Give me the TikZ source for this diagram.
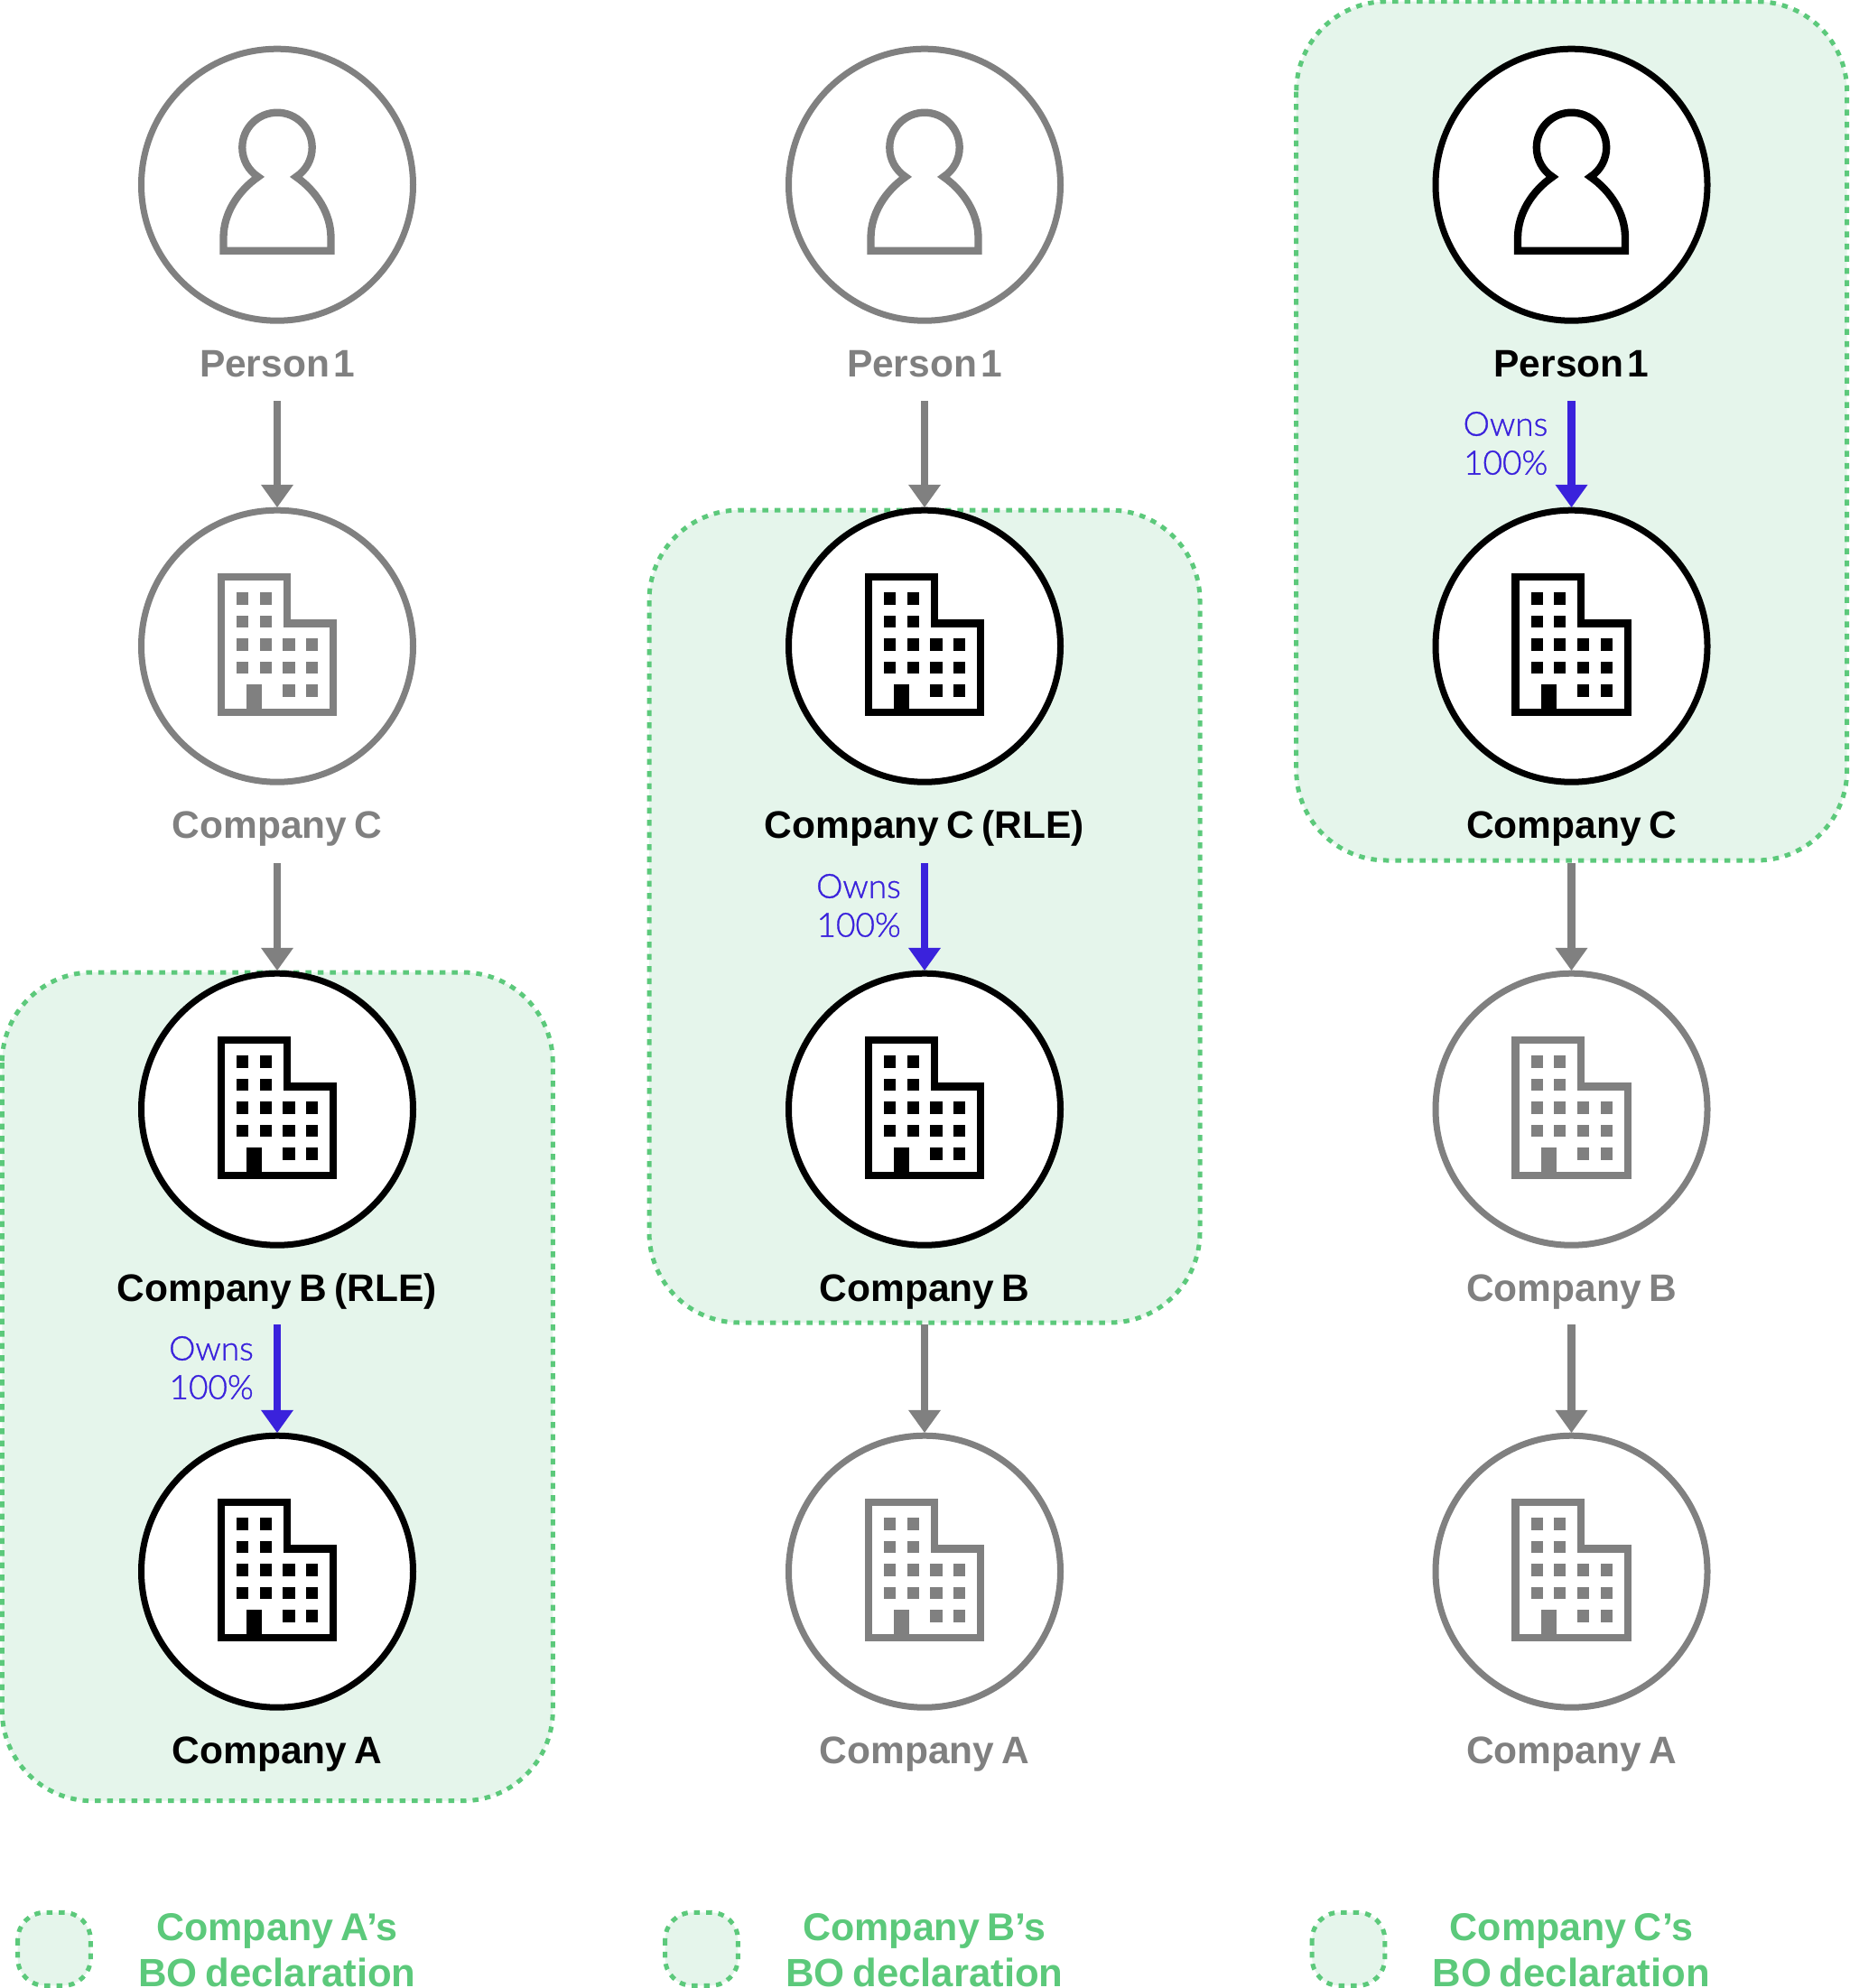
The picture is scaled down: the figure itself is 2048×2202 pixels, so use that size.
\documentclass[tikz,border=0pt]{standalone}
\usepackage{fontspec}
\setmainfont[WordSpace=0.7]{Liberation Sans}
\newfontfamily\lightfont[FakeBold=1]{Lato Light}
\definecolor{gr}{HTML}{808080}
\definecolor{gn}{HTML}{5CC97B}
\definecolor{gf}{HTML}{E5F5EB}
\definecolor{bl}{HTML}{3A22DC}
\usetikzlibrary{arrows.meta}
\newcommand{\personicon}[2]{\draw[#2,line width=8.3pt,miter limit=10,shift={(#1)}]
 (-59.5,73) -- (-59.5,58.7) .. controls (-59.5,32) and (-43.7,7) .. (-21,-8.8)
 .. controls (-32,-15.9) and (-38.7,-28.2) .. (-38.7,-41.3)
 .. controls (-38.7,-62.7) and (-21.4,-80) .. (0,-80)
 .. controls (21.4,-80) and (38.7,-62.7) .. (38.7,-41.3)
 .. controls (38.7,-28.2) and (32,-15.9) .. (21,-8.8)
 .. controls (43.7,7) and (59.5,32) .. (59.5,58.7) -- (59.5,73) -- cycle;}
\newcommand{\buildingicon}[2]{\begin{scope}[shift={(#1)}]
 \draw[#2,line width=8.3pt] (-62,73.2) -- (-62,-76.5) -- (10.8,-76.5) -- (10.8,-25.2) -- (62.3,-25.2) -- (62.3,73.2) -- cycle;
 \fill[#2] (-34,42.7) rectangle (-17,77.3);
 \foreach \wx/\wy in {-38.3/-52.7,-12.7/-52.7,-38.3/-27.3,-12.7/-27.3,-38.3/-1.7,-12.7/-1.7,13/-1.7,38.7/-1.7,-38.3/23.7,-12.7/23.7,13/23.7,38.7/23.7,13/49.3,38.7/49.3}
  \fill[#2] (\wx-6.65,\wy-6.65) rectangle (\wx+6.65,\wy+6.65);
\end{scope}}
\newcommand{\personone}{Person \kern-4pt 1}
\tikzset{
 cnode/.style={circle,draw,fill=white,line width=7pt,minimum size=301pt,inner sep=0pt,outer sep=0pt},
 lab/.style={font=\fontsize{42.5}{43}\selectfont\bfseries,anchor=base,inner sep=0pt},
 owns/.style={font=\lightfont\fontsize{37}{43}\selectfont,align=right,anchor=east,inner sep=0pt,text=bl},
 arrowg/.style={gr,line width=8.7pt,-{Triangle[length=25.4pt,width=34.3pt]},shorten >=3pt},
 arrowb/.style={bl,line width=8.7pt,-{Triangle[length=25.4pt,width=34.3pt]},shorten >=3pt},
 bobox/.style={draw=gn,fill=gf,line width=5pt,dash pattern=on 6.5pt off 7pt,rounded corners=#1},
 legone/.style={font=\fontsize{43}{51.5}\selectfont\bfseries,text=gn,anchor=base,inner sep=0pt},
 legtwo/.style={font=\fontsize{43.7}{51.5}\selectfont\bfseries,text=gn,anchor=base,inner sep=0pt},
}
\begin{document}
\begin{tikzpicture}[x=1pt,y=-1pt]
\useasboundingbox (0,0) rectangle (2048,2202);
% declaration areas
\draw[bobox=100pt] (2.3,1077) rectangle (612.3,1994.7);
\draw[bobox=100pt] (719,565) rectangle (1329,1465);
\draw[bobox=100pt] (1435.7,1.7) rectangle (2045.7,953);
\draw[bobox=30pt] (19.7,2118.3) rectangle (100.3,2199.3);
\draw[bobox=30pt] (736.7,2118.3) rectangle (817.3,2199.3);
\draw[bobox=30pt] (1453.2,2118.3) rectangle (1533.8,2199.3);
% Column A
\node[cnode,draw=gr] (a1) at (307,204.7) {};
\node[cnode,draw=gr] (a2) at (307,715.7) {};
\node[cnode,draw=black] (a3) at (307,1228.7) {};
\node[cnode,draw=black] (a4) at (307,1740.7) {};
\personicon{a1}{gr}\buildingicon{a2}{gr}\buildingicon{a3}{black}\buildingicon{a4}{black}
\node[lab,text=gr] (la1) at (307,417.7) {\personone};
\node[lab,text=gr] (la2) at (307,928.7) {Company C};
\node[lab] (la3) at (307,1441.7) {Company B (RLE)};
\node[lab] (la4) at (307,1953.7) {Company A};
\coordinate (sa1) at (307,444);\coordinate (sa2) at (307,956);\coordinate (sa3) at (307,1467.3);
\draw[arrowg] (sa1) -- (a2.north);
\draw[arrowg] (sa2) -- (a3.north);
\draw[arrowb] (sa3) -- (a4.north);
\node[owns] (oa) at (281,1515) {Owns\\100\%};
% Column B
\node[cnode,draw=gr] (b1) at (1024,204.7) {};
\node[cnode,draw=black] (b2) at (1024,715.7) {};
\node[cnode,draw=black] (b3) at (1024,1228.7) {};
\node[cnode,draw=gr] (b4) at (1024,1740.7) {};
\personicon{b1}{gr}\buildingicon{b2}{black}\buildingicon{b3}{black}\buildingicon{b4}{gr}
\node[lab,text=gr] (lb1) at (1024,417.7) {\personone};
\node[lab] (lb2) at (1024,928.7) {Company C (RLE)};
\node[lab] (lb3) at (1024,1441.7) {Company B};
\node[lab,text=gr] (lb4) at (1024,1953.7) {Company A};
\coordinate (sb1) at (1024,444);\coordinate (sb2) at (1024,956);\coordinate (sb3) at (1024,1467.3);
\draw[arrowg] (sb1) -- (b2.north);
\draw[arrowb] (sb2) -- (b3.north);
\draw[arrowg] (sb3) -- (b4.north);
\node[owns] (ob) at (998,1003) {Owns\\100\%};
% Column C
\node[cnode,draw=black] (c1) at (1740.5,204.7) {};
\node[cnode,draw=black] (c2) at (1740.5,715.7) {};
\node[cnode,draw=gr] (c3) at (1740.5,1228.7) {};
\node[cnode,draw=gr] (c4) at (1740.5,1740.7) {};
\personicon{c1}{black}\buildingicon{c2}{black}\buildingicon{c3}{gr}\buildingicon{c4}{gr}
\node[lab] (lc1) at (1740.5,417.7) {\personone};
\node[lab] (lc2) at (1740.5,928.7) {Company C};
\node[lab,text=gr] (lc3) at (1740.5,1441.7) {Company B};
\node[lab,text=gr] (lc4) at (1740.5,1953.7) {Company A};
\coordinate (sc1) at (1740.5,444);\coordinate (sc2) at (1740.5,956);\coordinate (sc3) at (1740.5,1467.3);
\draw[arrowb] (sc1) -- (c2.north);
\draw[arrowg] (sc2) -- (c3.north);
\draw[arrowg] (sc3) -- (c4.north);
\node[owns] (oc) at (1714.5,491) {Owns\\100\%};
% Legend
\node[legone] (l1) at (307,2149) {Company A’s};
\node[legtwo] (l1b) at (307,2200.7) {BO declaration};
\node[legone] (l2) at (1024,2149) {Company B’s};
\node[legtwo] (l2b) at (1024,2200.7) {BO declaration};
\node[legone] (l3) at (1740.5,2149) {Company C’s};
\node[legtwo] (l3b) at (1740.5,2200.7) {BO declaration};
\end{tikzpicture}
\end{document}
